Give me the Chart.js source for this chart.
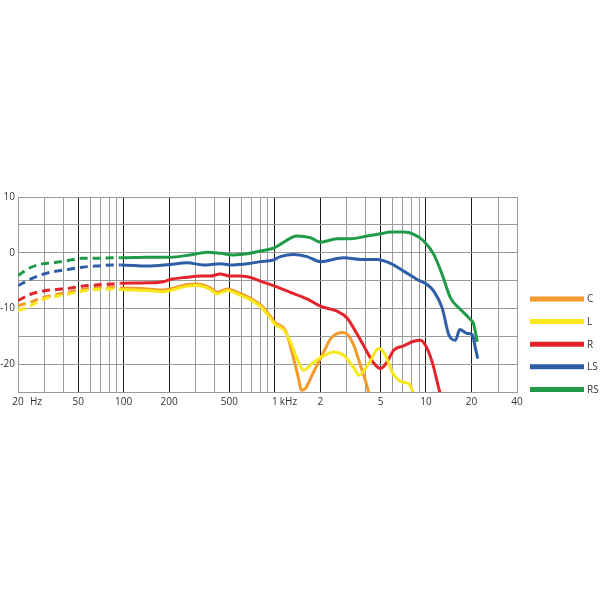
<!DOCTYPE html>
<html>
<head>
<meta charset="utf-8">
<script src="https://cdn.jsdelivr.net/npm/chart.js@4.4.1/dist/chart.umd.min.js"></script>
<style>
  body { margin: 0; background: #fff; }
  #wrap { width: 600px; height: 600px; }
</style>
</head>
<body>
<div id="wrap"><canvas id="fr"></canvas></div>
<script>
// frequency (Hz) / level (dB), one pair of arrays per channel
const cFreq = [20, 24, 29, 36, 43, 53, 65, 84, 95, 143, 183, 203, 263, 307, 374, 416, 484, 575, 706, 822, 933, 1007, 1143, 1204, 1331, 1436, 1497, 1592, 1762, 2000, 2160, 2330, 2784, 3006, 3324, 3681, 4078, 4300];
const cDb   = [-9.5, -8.9, -8.1, -7.5, -7.1, -6.6, -6.3, -6.2, -6.3, -6.5, -6.7, -6.5, -5.7, -5.6, -6.3, -7.1, -6.5, -7.2, -8.3, -9.6, -11.4, -12.6, -13.5, -14.7, -19.0, -22.6, -24.7, -24.4, -22.0, -19.0, -17.2, -15.5, -14.3, -14.6, -16.6, -20.2, -24.0, -26.5];

const lFreq = [20, 24, 29, 36, 43, 53, 65, 84, 95, 143, 183, 203, 263, 307, 374, 416, 484, 575, 706, 822, 933, 1007, 1143, 1266, 1402, 1550, 1762, 2052, 2450, 2854, 3324, 3600, 4178, 4866, 5390, 5970, 6952, 7688, 8298, 8800];
const lDb   = [-10.4, -9.6, -8.4, -7.8, -7.4, -6.9, -6.6, -6.5, -6.6, -6.8, -7.0, -6.8, -6.0, -5.9, -6.6, -7.4, -6.8, -7.5, -8.6, -9.9, -11.7, -12.9, -13.8, -16.0, -19.0, -21.1, -19.9, -18.7, -17.8, -18.4, -20.6, -22.0, -19.9, -17.2, -18.4, -21.4, -23.2, -23.5, -25.3, -27.0];

const rFreq = [20, 24, 29, 36, 43, 53, 65, 84, 95, 143, 183, 203, 263, 321, 374, 435, 507, 591, 720, 801, 977, 1266, 1633, 2000, 2581, 3006, 3500, 4078, 4508, 4994, 5530, 6116, 7124, 8298, 9192, 9920, 10984, 12466, 13000];
const rDb   = [-8.6, -7.5, -6.9, -6.6, -6.4, -6.0, -5.8, -5.6, -5.5, -5.4, -5.2, -4.8, -4.4, -4.2, -4.2, -3.8, -4.2, -4.2, -4.6, -5.1, -5.9, -7.1, -8.3, -9.6, -10.5, -11.7, -14.6, -17.8, -19.8, -20.8, -19.6, -17.5, -16.7, -15.9, -15.7, -16.6, -19.6, -25.5, -27.0];

const lsFreq = [20, 24, 29, 36, 43, 53, 65, 84, 95, 143, 203, 263, 336, 435, 531, 657, 801, 977, 1087, 1331, 1633, 2000, 2854, 3681, 4748, 5816, 7124, 8738, 10176, 11256, 12794, 14148, 15668, 16732, 18730, 20212, 21258, 22018];
const lsDb   = [-5.9, -4.8, -3.9, -3.3, -3.0, -2.6, -2.4, -2.2, -2.2, -2.4, -2.1, -1.8, -2.2, -2.0, -2.2, -2.0, -1.6, -1.3, -0.7, -0.3, -0.7, -1.6, -0.9, -1.2, -1.2, -1.9, -3.3, -4.8, -5.7, -6.9, -9.9, -14.7, -15.7, -13.8, -14.5, -14.7, -17.2, -19.0];

const rsFreq = [20, 24, 29, 36, 43, 53, 65, 84, 95, 143, 203, 275, 357, 435, 531, 657, 801, 977, 1087, 1402, 1717, 2000, 2581, 3160, 4078, 4994, 5816, 7124, 8298, 9666, 11256, 12794, 14518, 16912, 19192, 20712, 21816];
const rsDb   = [-4.1, -2.7, -2.0, -1.7, -1.4, -1.0, -1.0, -0.9, -0.9, -0.8, -0.8, -0.4, 0.1, -0.1, -0.4, -0.2, 0.3, 0.8, 1.5, 3.0, 2.7, 1.9, 2.5, 2.5, 3.0, 3.4, 3.7, 3.7, 3.3, 2.1, -0.3, -3.9, -8.1, -10.2, -11.7, -12.9, -16.0];

const xGrid = [20, 30, 40, 50, 60, 70, 80, 90, 100, 200, 300, 400, 500, 600, 700, 800, 900,
  1000, 2000, 3000, 4000, 5000, 6000, 7000, 8000, 9000, 10000, 20000, 30000, 40000];
const xMajor = [50, 100, 200, 500, 1000, 2000, 5000, 10000, 20000];
const xLabels = {20: "20", 50: "50", 100: "100", 200: "200", 500: "500", 1000: "1",
  2000: "2", 5000: "5", 10000: "10", 20000: "20", 40000: "40"};
const yLabels = [10, 0, -10, -20];
const dashedBelow = 95; // measured part starts here, below it the curves are dashed

function pts(f, d) {
  return f.map((v, i) => ({ x: v, y: d[i] }));
}

function series(label, f, d, color, order) {
  return {
    label: label,
    data: pts(f, d),
    borderColor: color,
    borderWidth: 3,
    pointRadius: 0,
    fill: false,
    cubicInterpolationMode: "monotone",
    order: order,
    segment: {
      borderDash: (c) => (c.p1.parsed.x <= dashedBelow ? [8, 5] : undefined),
    },
  };
}

// legend + unit text drawn by hand
const extras = {
  id: "extras",
  afterDraw(chart) {
    const { ctx, chartArea, scales } = chart;
    ctx.save();
    ctx.font = '10px "Open Sans"';
    ctx.fillStyle = "#333";
    ctx.textBaseline = "middle";
    ctx.textAlign = "left";
    let ly = chartArea.bottom + 10;
    ctx.fillText("Hz", scales.x.getPixelForValue(20) + 12, ly);
    ctx.fillText("kHz", scales.x.getPixelForValue(1000) + 5, ly);

    chart.data.datasets.forEach((ds, i) => {
      let y = 299 + i * 22.6;
      ctx.strokeStyle = ds.borderColor;
      ctx.lineWidth = 5;
      ctx.beginPath();
      ctx.moveTo(530, y);
      ctx.lineTo(584, y);
      ctx.stroke();
      ctx.fillText(ds.label, 587, y + 0.5);
    });
    ctx.restore();
  },
};

new Chart(document.getElementById("fr"), {
  type: "line",
  data: {
    datasets: [
      series("C", cFreq, cDb, "#F39A2B", 1),
      series("L", lFreq, lDb, "#F8E71C", 0),
      series("R", rFreq, rDb, "#E3242B", 0),
      series("LS", lsFreq, lsDb, "#2F5EA8", 0),
      series("RS", rsFreq, rsDb, "#1F9A48", 0),
    ],
  },
  options: {
    responsive: true,
    maintainAspectRatio: false,
    animation: false,
    layout: { padding: { top: 197, right: 83, bottom: 188, left: 0 } },
    plugins: {
      legend: { display: false },
      tooltip: { enabled: false },
    },
    scales: {
      x: {
        type: "logarithmic",
        min: 20,
        max: 40000,
        afterBuildTicks: (s) => {
          s.ticks = xGrid.map((v) => ({ value: v }));
        },
        afterFit: (s) => {
          s.height = 20;
        },
        ticks: {
          autoSkip: false,
          maxRotation: 0,
          padding: 4,
          color: "#333",
          font: { family: "Open Sans", size: 10 },
          callback: (v) => xLabels[v] || "",
        },
        grid: {
          drawTicks: false,
          lineWidth: 1,
          color: (c) => (c.tick && xMajor.includes(c.tick.value) ? "#1a1a1a" : "#9a9a9a"),
        },
        border: { color: "#9a9a9a" },
      },
      y: {
        min: -25,
        max: 10,
        afterFit: (s) => {
          s.width = 18;
        },
        ticks: {
          stepSize: 5,
          padding: 3,
          color: "#333",
          font: { family: "Open Sans", size: 10 },
          callback: (v) => (yLabels.includes(v) ? String(v) : ""),
        },
        grid: { drawTicks: false, color: "#9a9a9a" },
        border: { color: "#9a9a9a" },
      },
    },
  },
  plugins: [extras],
});
</script>
</body>
</html>
